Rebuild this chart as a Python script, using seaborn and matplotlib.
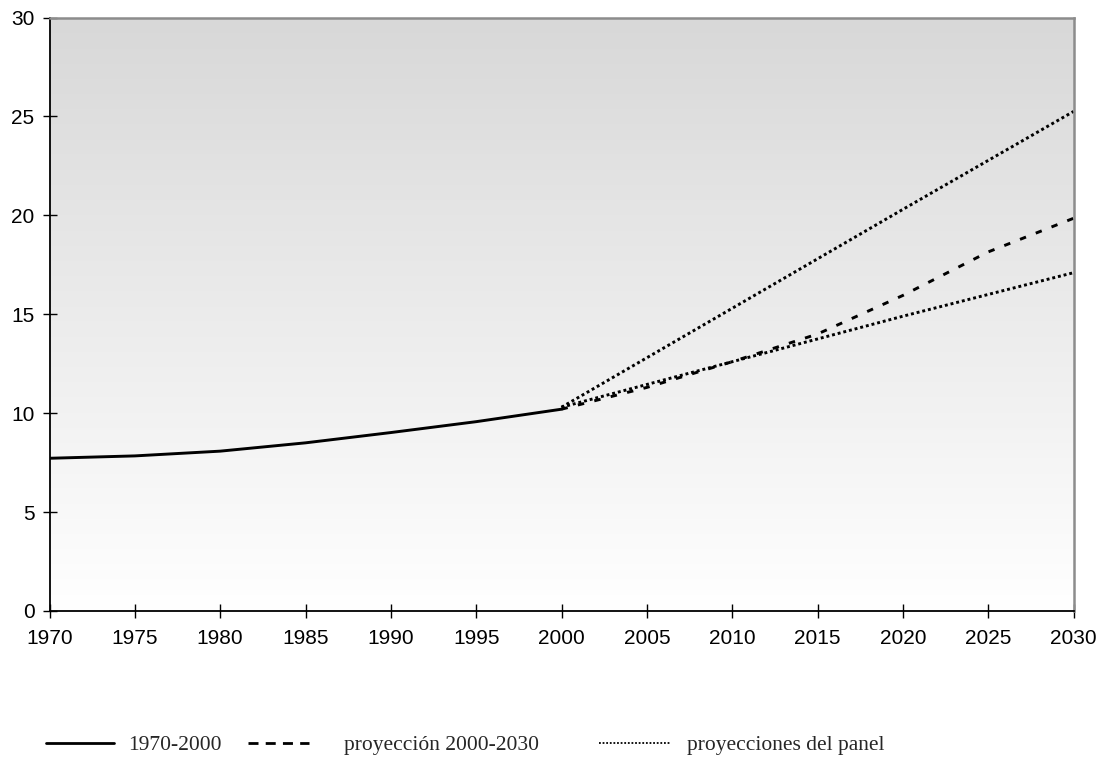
import numpy as np
import pandas as pd
import matplotlib
matplotlib.use("Agg")
import matplotlib.pyplot as plt
from matplotlib.lines import Line2D
from matplotlib.colors import LinearSegmentedColormap
import seaborn as sns

# ---- data ----
hist_years = [1970, 1975, 1980, 1985, 1990, 1995, 2000]
hist_values = [7.72, 7.84, 8.08, 8.5, 9.02, 9.57, 10.2]

proj_years = [2000, 2005, 2010, 2015, 2020, 2025, 2030]
proj_values = [10.2, 11.3, 12.6, 14.0, 15.95, 18.15, 19.85]

panel_years = [2000, 2010, 2020, 2030]
panel_high = [10.3, 15.3, 20.3, 25.25]
panel_low = [10.3, 12.6, 14.9, 17.1]

x_ticks = list(range(1970, 2031, 5))
y_ticks = [0, 5, 10, 15, 20, 25, 30]
legend_labels = ["1970-2000", "proyección 2000-2030", "proyecciones del panel"]

# ---- figure ----
sns.set_style("white")
plt.rcParams['font.family'] = ['Liberation Sans', 'DejaVu Sans']

fig = plt.figure(figsize=(11.01, 7.62), dpi=100)
ax = fig.add_axes([49.5 / 1101, 1 - 611 / 762, (1073.5 - 49.5) / 1101, (611 - 17.5) / 762])

# gradient background
grad = np.linspace(0, 1, 256).reshape(-1, 1)
cmap = LinearSegmentedColormap.from_list("bg", ["#ffffff", "#d8d8d8"])
ax.imshow(grad, extent=[0, 1, 0, 1], transform=ax.transAxes, cmap=cmap,
          aspect="auto", origin="lower", zorder=0)

lw = 2.1
sns.lineplot(x=hist_years, y=hist_values, ax=ax, color="black", linewidth=lw,
             linestyle="-", zorder=3)
sns.lineplot(x=proj_years, y=proj_values, ax=ax, color="black", linewidth=lw,
             linestyle=(0, (2.2, 3.6)), zorder=3)
sns.lineplot(x=panel_years, y=panel_high, ax=ax, color="black", linewidth=lw,
             linestyle=(0, (1, 1)), zorder=3)
sns.lineplot(x=panel_years, y=panel_low, ax=ax, color="black", linewidth=lw,
             linestyle=(0, (1, 1)), zorder=3)

ax.set_xlim(1970, 2030)
ax.set_ylim(0, 30)
ax.set_xticks(x_ticks)
ax.set_yticks(y_ticks)
ax.set_xticklabels([str(v) for v in x_ticks])
ax.set_yticklabels([str(v) for v in y_ticks])
ax.set_xlabel("")
ax.set_ylabel("")
ax.tick_params(axis="both", which="major", bottom=True, left=True, top=False, right=False,
               direction="inout", length=9.5, width=1.0,
               colors="black", labelsize=15, labelcolor="black")
ax.tick_params(axis="x", pad=8)
ax.tick_params(axis="y", pad=6)
ax.grid(False)

for side in ["left", "bottom"]:
    ax.spines[side].set_color("black")
    ax.spines[side].set_linewidth(1.3)
for side in ["top", "right"]:
    ax.spines[side].set_color("#8c8c8c")
    ax.spines[side].set_linewidth(1.8)
for s in ax.spines.values():
    s.set_visible(True)
    s.set_zorder(4)

# legend (three separate entries as in the reference)
handles = [
    Line2D([], [], color="black", linewidth=2.0, linestyle="-"),
    Line2D([], [], color="black", linewidth=2.0, linestyle=(0, (3.6, 2.6))),
    Line2D([], [], color="black", linewidth=1.3, linestyle=(0, (1, 1))),
]
anchors_x = [46 / 1101, 248 / 1101, 599 / 1101]
hlens = [3.15, 2.85, 3.35]
tpads = [0.65, 1.6, 0.75]
y_leg = 1 - 745 / 762
for h, lab, xa, hl, tp in zip(handles, legend_labels, anchors_x, hlens, tpads):
    fig.legend([h], [lab], loc="center left", bbox_to_anchor=(xa, y_leg),
               frameon=False, borderpad=0, borderaxespad=0,
               handlelength=hl, handletextpad=tp,
               prop={"family": ["Liberation Serif", "DejaVu Serif"], "size": 15.5})

fig.savefig("out.png", dpi=100)
